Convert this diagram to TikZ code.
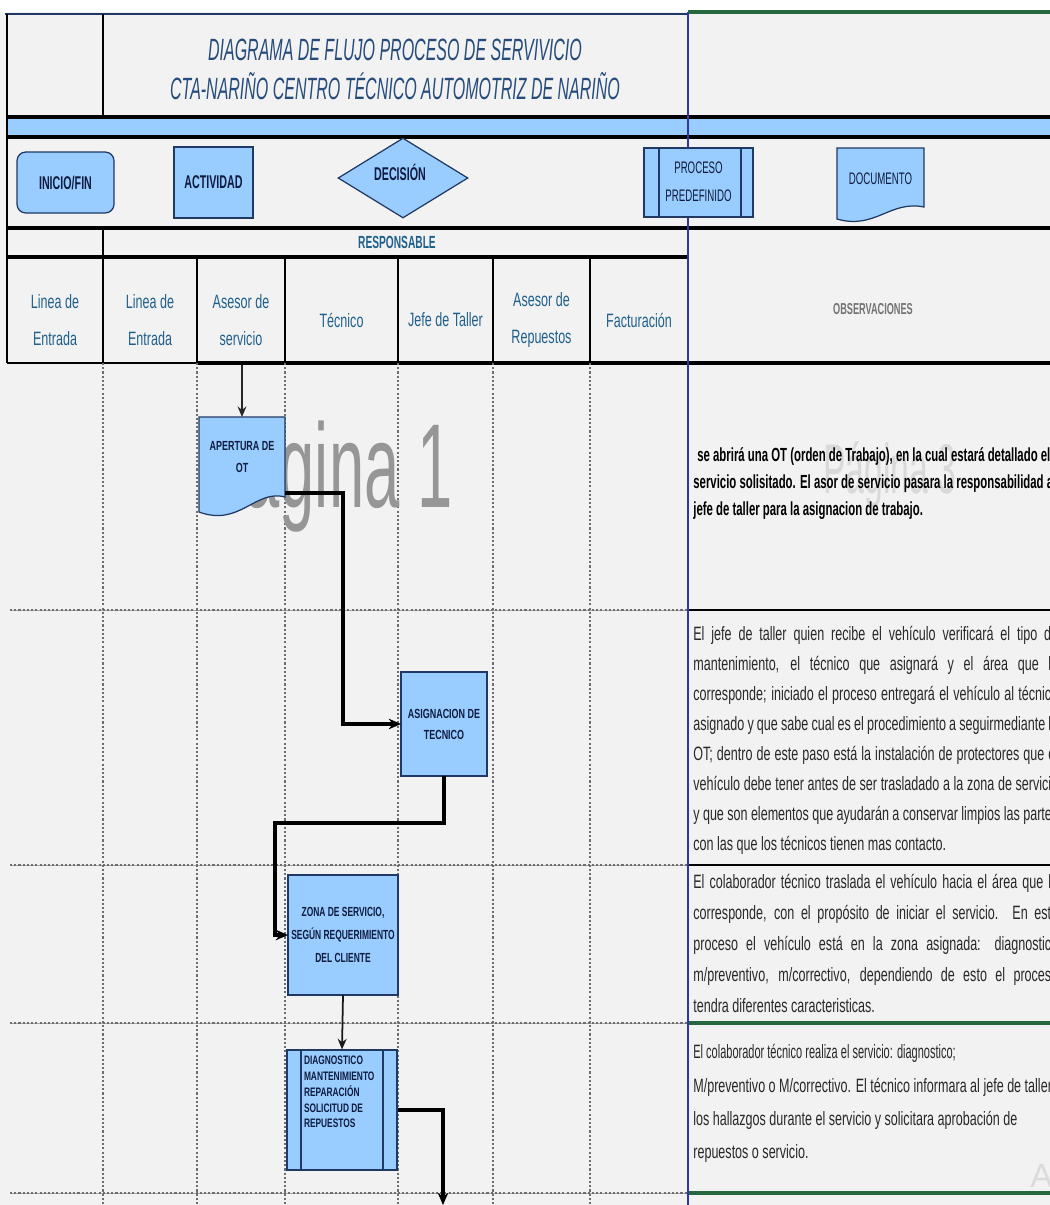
\documentclass[tikz,border=0pt]{standalone}
\usepackage{fontspec}
\setmainfont{Liberation Sans}
\newfontfamily\condfont[FakeStretch=0.65]{Liberation Sans}
\newfontfamily\boldcond[FakeStretch=0.6]{Liberation Sans}
\newfontfamily\tightcond[FakeStretch=0.57]{Liberation Sans}
\newfontfamily\narrowfont[FakeStretch=0.58]{Liberation Sans}
\newfontfamily\boxfont[FakeStretch=0.68]{Liberation Sans}
\newfontfamily\boxfontB[FakeStretch=0.64]{Liberation Sans}
\newfontfamily\titlefont[FakeStretch=0.52]{Liberation Sans}
\newfontfamily\markfont[FakeStretch=0.53]{Liberation Sans}
\newfontfamily\faintfont[FakeStretch=0.48]{Liberation Sans}
\usetikzlibrary{shapes.geometric,arrows.meta,calc}

\definecolor{pagebg}{RGB}{242,242,242}
\definecolor{shapefill}{RGB}{153,204,255}
\definecolor{shapeline}{RGB}{31,56,100}
\definecolor{bandblue}{RGB}{153,204,255}
\definecolor{divblue}{RGB}{51,51,170}
\definecolor{sheetgreen}{RGB}{38,104,62}
\definecolor{headtext}{RGB}{31,96,140}
\definecolor{titletext}{RGB}{38,76,124}
\definecolor{gridgray}{RGB}{110,110,110}
\definecolor{bodytext}{RGB}{40,40,40}
\definecolor{shapetext}{RGB}{15,28,64}
\definecolor{markgray}{RGB}{150,150,150}

\newcommand\obsjust[1]{\makebox[7.3cm][s]{#1}}

\tikzset{
  thickrule/.style={black, line width=2pt},
  thinrule/.style={black, line width=0.8pt},
  dotrule/.style={gridgray, line width=0.7pt, dash pattern=on 1.2pt off 1.2pt},
  rowrule/.style={gray!70, line width=0.4pt},
  boxshape/.style={draw=shapeline, fill=shapefill, line width=0.7pt},
  boxarea/.style={inner sep=0pt, outer sep=0pt, align=center, text=shapetext,
    font=\boxfont\bfseries\fontsize{7.5}{12}\selectfont},
  legendtext/.style={inner sep=0pt, align=center, text=shapetext,
    font=\narrowfont\bfseries\fontsize{10.5}{14}\selectfont},
  colhead/.style={inner sep=0pt, align=center, text=headtext,
    font=\condfont\fontsize{11}{21}\selectfont},
  flowline/.style={black, line width=1.8pt, -{Stealth[length=7pt,width=6pt]}},
  obsline/.style={anchor=base west, inner sep=0pt, text=bodytext,
    font=\condfont\fontsize{11}{12}\selectfont},
  obsbold/.style={obsline, text=black, font=\boldcond\bfseries\fontsize{10.8}{12}\selectfont},
  obstight/.style={obsline, font=\tightcond\fontsize{11}{12}\selectfont}
}

\begin{document}
\begin{tikzpicture}[x=0.02cm, y=-0.02cm]
\useasboundingbox (0,0) rectangle (1050,1205);
\fill[pagebg] (0,0) rectangle (1050,1205);
\fill[white] (0,0) rectangle (1050,12);

% ---------- title block ----------
\draw[shapeline, line width=0.8pt] (5,14) -- (688,14);
\draw[sheetgreen, line width=2.2pt] (688,12) -- (1050,12);
\node[inner sep=0pt, text=titletext, font=\titlefont\itshape\fontsize{17.5}{20}\selectfont]
  (title1) at (395,50) {DIAGRAMA DE FLUJO PROCESO DE SERVIVICIO};
\node[inner sep=0pt, text=titletext, font=\titlefont\itshape\fontsize{17.5}{20}\selectfont]
  (title2) at (395,86) {CTA-NARIÑO CENTRO TÉCNICO AUTOMOTRIZ DE NARIÑO};

% ---------- blue band ----------
\fill[bandblue] (7,117) rectangle (1050,137);
\draw[thickrule] (7,117) -- (1050,117);
\draw[thickrule] (7,137) -- (1050,137);

% ---------- frame lines ----------
\draw[thinrule] (7,14) -- (7,363);
\draw[thinrule] (103,14) -- (103,117);
\draw[thinrule] (103,228) -- (103,363);
\foreach \cx in {197,285,398,493,590}
  \draw[thinrule] (\cx,257) -- (\cx,363);
\draw[thickrule] (7,228) -- (1050,228);
\draw[thickrule] (7,257) -- (688,257);
\draw[thinrule] (7,363) -- (197,363);
\draw[thickrule] (197,363) -- (1050,363);

% ---------- body grid ----------
\foreach \ry in {610,865,1023,1193}{
  \draw[rowrule] (10,\ry) -- (688,\ry);
  \draw[dotrule] (10,\ry) -- (688,\ry);
}
\foreach \cx in {103,197,285,398,493,590}
  \draw[dotrule] (\cx,363) -- (\cx,1205);
\draw[black, line width=1pt] (688,610) -- (1050,610);
\draw[black, line width=1pt] (688,865) -- (1050,865);
\draw[sheetgreen, line width=2.2pt] (688,1023) -- (1050,1023);
\draw[sheetgreen, line width=2.2pt] (688,1193) -- (1050,1193);

% page-break marks
\node[anchor=base west, inner sep=0pt, text=markgray, font=\markfont\fontsize{68}{68}\selectfont]
  (page1) at (202,507) {Página 1};
\node[anchor=base west, inner sep=0pt, text=gray!30, font=\faintfont\fontsize{40}{40}\selectfont]
  (page3) at (823,493) {Página 3};

% column divider
\draw[divblue, line width=0.9pt] (688,12) -- (688,1205);

% ---------- legend ----------
\node[boxshape, rounded corners=5pt, minimum width=1.94cm, minimum height=1.22cm, legendtext]
  (inicio) at (65.5,182.5) {INICIO/FIN};
\node[boxshape, minimum width=1.58cm, minimum height=1.42cm, legendtext]
  (actividad) at (213.5,182.5) {ACTIVIDAD};
\node[boxshape, shape=diamond, minimum width=2.6cm, minimum height=1.6cm, inner sep=0pt]
  (decision) at (403,178) {};
\node[legendtext] (decisiontxt) at (400,172) {DECISIÓN};
\node[boxshape, minimum width=2.18cm, minimum height=1.38cm] (predef) at (698.5,182.5) {};
\draw[shapeline, line width=0.6pt] (659,148) -- (659,217) (741,148) -- (741,217);
\node[legendtext, font=\narrowfont\fontsize{9.5}{16}\selectfont] (predeftxt) at (698.5,182) {PROCESO\\PREDEFINIDO};
\filldraw[boxshape] (837,148) -- (924,148) -- (924,207)
  .. controls (890,200) and (875,230) .. (837,219) -- cycle;
\node[legendtext, font=\narrowfont\fontsize{9.5}{14}\selectfont, minimum width=1.74cm, minimum height=1.2cm]
  (documento) at (880.5,179) {DOCUMENTO};

% ---------- header texts ----------
\node[inner sep=0pt, text=headtext, font=\narrowfont\bfseries\fontsize{10}{11}\selectfont]
  (responsable) at (397,242) {RESPONSABLE};
\node[colhead] (h1) at (55,320) {Linea de\\Entrada};
\node[colhead] (h2) at (150,320) {Linea de\\Entrada};
\node[colhead] (h3) at (241,320) {Asesor de\\servicio};
\node[colhead] (h4) at (341.5,320) {Técnico};
\node[colhead] (h5) at (445.5,320) {Jefe de Taller};
\node[colhead] (h6) at (541.5,320) {Asesor de\\Repuestos};
\node[colhead] (h7) at (639,320) {Facturación};
\node[inner sep=0pt, text=gray!90!black, font=\narrowfont\bfseries\fontsize{9}{10}\selectfont]
  (obshead) at (873,309) {OBSERVACIONES};

% ---------- process shapes ----------
\filldraw[boxshape] (199,417) -- (285,417) -- (285,497)
  .. controls (255,489) and (240,527) .. (199,512) -- cycle;
\node[boxarea, minimum width=1.72cm, minimum height=1.6cm] (apertura) at (242,457) {APERTURA DE\\OT};

\node[boxshape, boxarea, minimum width=1.72cm, minimum height=2.08cm] (asignacion) at (444,724)
  {ASIGNACION DE\\TECNICO};

\node[boxshape, boxarea, minimum width=2.2cm, minimum height=2.4cm,
  font=\boxfontB\bfseries\fontsize{7.5}{13}\selectfont] (zona) at (343,935)
  {ZONA DE SERVICIO,\\SEGÚN REQUERIMIENTO\\DEL CLIENTE};

\node[boxshape, minimum width=2.2cm, minimum height=2.4cm, inner sep=0pt] (diag) at (342,1110) {};
\draw[shapeline, line width=0.6pt] (301,1050) -- (301,1170) (383,1050) -- (383,1170);
\node[boxarea, anchor=north west, align=left, font=\boxfont\bfseries\fontsize{7}{9}\selectfont]
  (diagtxt) at (304,1056) {DIAGNOSTICO\\MANTENIMIENTO\\REPARACIÓN\\SOLICITUD DE\\REPUESTOS};

% ---------- connectors ----------
\coordinate (lanetop) at (242,365);
\coordinate (offpage) at (443,1205);
\draw[gray!30!black, line width=1pt, -{Stealth[length=6pt,width=5pt]}] (lanetop) -- (apertura.north);
\draw[flowline] ([yshift=0.08cm]apertura.south east) -- ++(58,0) |- (asignacion.west);
\draw[flowline] (asignacion.south) -- ++(0,47) -| ($(zona.west)+(-13,0)$) -- (zona.west);
\draw[gray!20!black, line width=1pt, -{Stealth[length=6pt,width=5pt]}] (zona.south) -- (diag.north);
\draw[flowline] (diag.east) -| (offpage);

% ---------- observations ----------
\begin{scope}
\clip (689,0) rectangle (1050,1205);
\node[obsbold] (o1a) at (697,461) {se abrirá una OT (orden de Trabajo), en la cual estará detallado el};
\node[obsbold] (o1b) at (693,488) {servicio solisitado. El asor de servicio pasara la responsabilidad al};
\node[obsbold] (o1c) at (693,515) {jefe de taller para la asignacion de trabajo.};

\node[obsline] (o2a) at (693,640) {\obsjust{El jefe de taller quien recibe el vehículo verificará el tipo de}};
\node[obsline] (o2b) at (693,670) {\obsjust{mantenimiento, el técnico que asignará y el área que le}};
\node[obsline] (o2c) at (693,700) {\obsjust{corresponde; iniciado el proceso entregará el vehículo al técnico}};
\node[obsline] (o2d) at (693,730) {\obsjust{asignado y que sabe cual es el procedimiento a seguirmediante la}};
\node[obsline] (o2e) at (693,760) {\obsjust{OT; dentro de este paso está la instalación de protectores que el}};
\node[obsline] (o2f) at (693,790) {\obsjust{vehículo debe tener antes de ser trasladado a la zona de servicio}};
\node[obsline] (o2g) at (693,820) {\obsjust{y que son elementos que ayudarán a conservar limpios las partes}};
\node[obsline] (o2h) at (693,850) {con las que los técnicos tienen mas contacto.};

\node[obsline] (o3a) at (693,888) {\obsjust{El colaborador técnico traslada el vehículo hacia el área que le}};
\node[obsline] (o3b) at (693,919) {\obsjust{corresponde, con el propósito de iniciar el servicio. En este}};
\node[obsline] (o3c) at (693,950) {\obsjust{proceso el vehículo está en la zona asignada: diagnostico}};
\node[obsline] (o3d) at (693,981) {\obsjust{m/preventivo, m/correctivo, dependiendo de esto el proceso}};
\node[obsline] (o3e) at (693,1012) {tendra diferentes caracteristicas.};

\node[obstight] (o4a) at (693,1058) {El colaborador técnico realiza el servicio: diagnostico;};
\node[obsline] (o4b) at (693,1092) {M/preventivo o M/correctivo. El técnico informara al jefe de taller};
\node[obsline] (o4c) at (693,1125) {los hallazgos durante el servicio y solicitara aprobación de};
\node[obsline] (o4d) at (693,1158) {repuestos o servicio.};

\node[anchor=base west, inner sep=0pt, text=gray!28, font=\fontsize{19}{20}\selectfont]
  (activar) at (1030,1187) {Activar Windows};
\end{scope}
\end{tikzpicture}
\end{document}
